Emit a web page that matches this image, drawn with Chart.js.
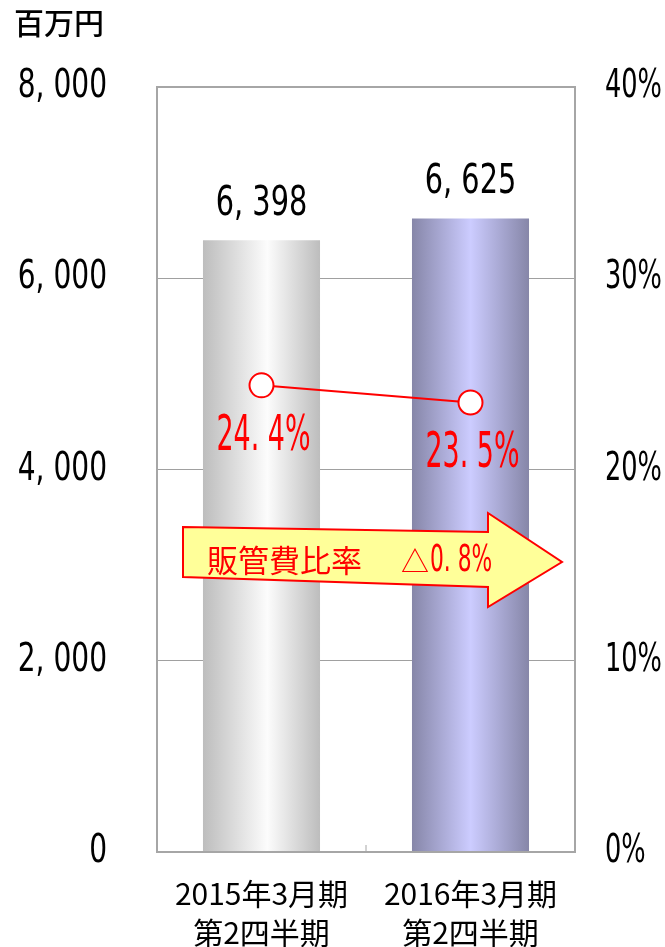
<!DOCTYPE html>
<html>
<head>
<meta charset="utf-8">
<script src="https://cdn.jsdelivr.net/npm/chart.js@4/dist/chart.umd.min.js"></script>
<style>
  body { margin: 0; background: #fff; }
  canvas { display: block; }
</style>
</head>
<body>
<canvas id="myChart" width="665" height="947"></canvas>
<script>
// data
var categories = [["2015年3月期", "第2四半期"], ["2016年3月期", "第2四半期"]];
var costValues = [6398, 6625];      // 百万円
var ratioValues = [24.4, 23.5];     // %
var leftMax = 8000, leftStep = 2000;
var rightMax = 40, rightStep = 10;
var unitLabel = "百万円";
var arrowText1 = "販管費比率";
var arrowMark = "△";
var arrowText2 = "0. 8%";

var narrow = "'Liberation Sans Narrow', 'DejaVu Sans Condensed', 'Noto Sans CJK JP', sans-serif";
var cjk = "'Noto Sans CJK JP', sans-serif";

function fmtThousands(v) {
    return v.toLocaleString("en-US").replace(",", ", ");
}

function barGradient(context) {
    var chart = context.chart;
    var area = chart.chartArea;
    if (!area) return "#ccc";
    var xs = chart.scales.x;
    var cx = xs.getPixelForValue(context.dataIndex);
    var w = (area.right - area.left) / categories.length * 0.56;
    var g = chart.ctx.createLinearGradient(cx - w / 2, 0, cx + w / 2, 0);
    if (context.dataIndex === 0) {
        g.addColorStop(0, "#bdbdbd");
        g.addColorStop(0.55, "#fcfcfc");
        g.addColorStop(1, "#bdbdbd");
    } else {
        g.addColorStop(0, "#8686a8");
        g.addColorStop(0.5, "#ccccff");
        g.addColorStop(1, "#8686a8");
    }
    return g;
}

// canvas text squeezed/stretched to copy the narrow font of the original
function drawText(ctx, text, x, y, font, color, align, sx, sy) {
    ctx.save();
    ctx.translate(x, y);
    ctx.scale(sx || 1, sy || 1);
    ctx.font = font;
    ctx.fillStyle = color;
    ctx.textAlign = align || "center";
    ctx.textBaseline = "middle";
    ctx.fillText(text, 0, 0);
    ctx.restore();
}

var extras = {
    id: "extras",
    afterDatasetsDraw: function (chart) {
        var ctx = chart.ctx;
        var a = chart.chartArea;

        // plot frame
        ctx.save();
        ctx.strokeStyle = "#a6a6a6";
        ctx.lineWidth = 2;
        ctx.strokeRect(a.left, a.top, a.right - a.left, a.bottom - a.top);
        var mid = (a.left + a.right) / 2;
        ctx.lineWidth = 1;
        ctx.beginPath();
        ctx.moveTo(mid, a.bottom);
        ctx.lineTo(mid, a.bottom - 7);
        ctx.stroke();
        ctx.restore();

        // axis tick labels
        var ys = chart.scales.y;
        ys.ticks.forEach(function (t) {
            drawText(ctx, fmtThousands(t.value), 107, ys.getPixelForValue(t.value), "39px " + narrow, "#000", "right", 0.8, 1);
        });
        var ys1 = chart.scales.y1;
        ys1.ticks.forEach(function (t) {
            drawText(ctx, t.value + "%", 605, ys1.getPixelForValue(t.value), "39px " + narrow, "#000", "left", 0.73, 1);
        });

        // bar value labels
        var barMeta = chart.getDatasetMeta(0);
        barMeta.data.forEach(function (bar, i) {
            drawText(ctx, fmtThousands(costValues[i]), bar.x, bar.y - 36, "40px " + narrow, "#000", "center", 0.8, 1);
        });

        // ratio labels
        var lineMeta = chart.getDatasetMeta(1);
        lineMeta.data.forEach(function (pt, i) {
            drawText(ctx, ratioValues[i].toFixed(1).replace(".", ". ") + "%", pt.x + 2, pt.y + 52,
                "34px " + narrow, "#ff0000", "center", 0.88, 1.45);
        });

        // arrow
        ctx.save();
        ctx.beginPath();
        ctx.moveTo(183, 527);
        ctx.lineTo(488, 532);
        ctx.lineTo(488, 513);
        ctx.lineTo(562, 562);
        ctx.lineTo(488, 607);
        ctx.lineTo(488, 587);
        ctx.lineTo(183, 577);
        ctx.closePath();
        ctx.fillStyle = "#ffff99";
        ctx.fill();
        ctx.strokeStyle = "#ff0000";
        ctx.lineWidth = 2;
        ctx.stroke();
        ctx.restore();
        drawText(ctx, arrowText1, 207, 560, "31px " + cjk, "#ff0000", "left");
        drawText(ctx, arrowMark, 401, 561, "28px " + cjk, "#ff0000", "left");
        drawText(ctx, arrowText2, 430, 561, "31px " + narrow, "#ff0000", "left", 0.78, 1.2);

        // unit
        drawText(ctx, unitLabel, 14, 23, "500 30px " + cjk, "#000", "left");
    }
};

new Chart("myChart", {
    type: "bar",
    data: {
        labels: categories,
        datasets: [{
            type: "bar",
            data: costValues,
            yAxisID: "y",
            backgroundColor: barGradient,
            borderWidth: 0,
            barPercentage: 0.56,
            categoryPercentage: 1,
            order: 1
        }, {
            type: "line",
            data: ratioValues,
            yAxisID: "y1",
            borderColor: "#ff0000",
            borderWidth: 2,
            pointRadius: 12,
            pointBackgroundColor: "#ffffff",
            pointBorderColor: "#ff0000",
            pointBorderWidth: 2,
            order: 0
        }]
    },
    options: {
        responsive: false,
        animation: false,
        layout: { padding: { top: 87, left: 0, right: 0, bottom: 0 } },
        plugins: {
            legend: { display: false },
            tooltip: { enabled: false }
        },
        scales: {
            x: {
                offset: true,
                grid: { display: false },
                border: { display: false },
                ticks: {
                    color: "#000",
                    font: { family: cjk, size: 30, lineHeight: 1.3 },
                    padding: 14,
                    maxRotation: 0
                },
                afterFit: function (s) { s.height = 95; }
            },
            y: {
                position: "left",
                min: 0,
                max: leftMax,
                grid: { color: "#a0a0a0", lineWidth: 1, drawTicks: false },
                border: { display: false },
                ticks: { stepSize: leftStep, display: false },
                afterFit: function (s) { s.width = 157; }
            },
            y1: {
                position: "right",
                min: 0,
                max: rightMax,
                grid: { display: false, drawTicks: false },
                border: { display: false },
                ticks: { stepSize: rightStep, display: false },
                afterFit: function (s) { s.width = 90; }
            }
        }
    },
    plugins: [extras]
});
</script>
</body>
</html>
